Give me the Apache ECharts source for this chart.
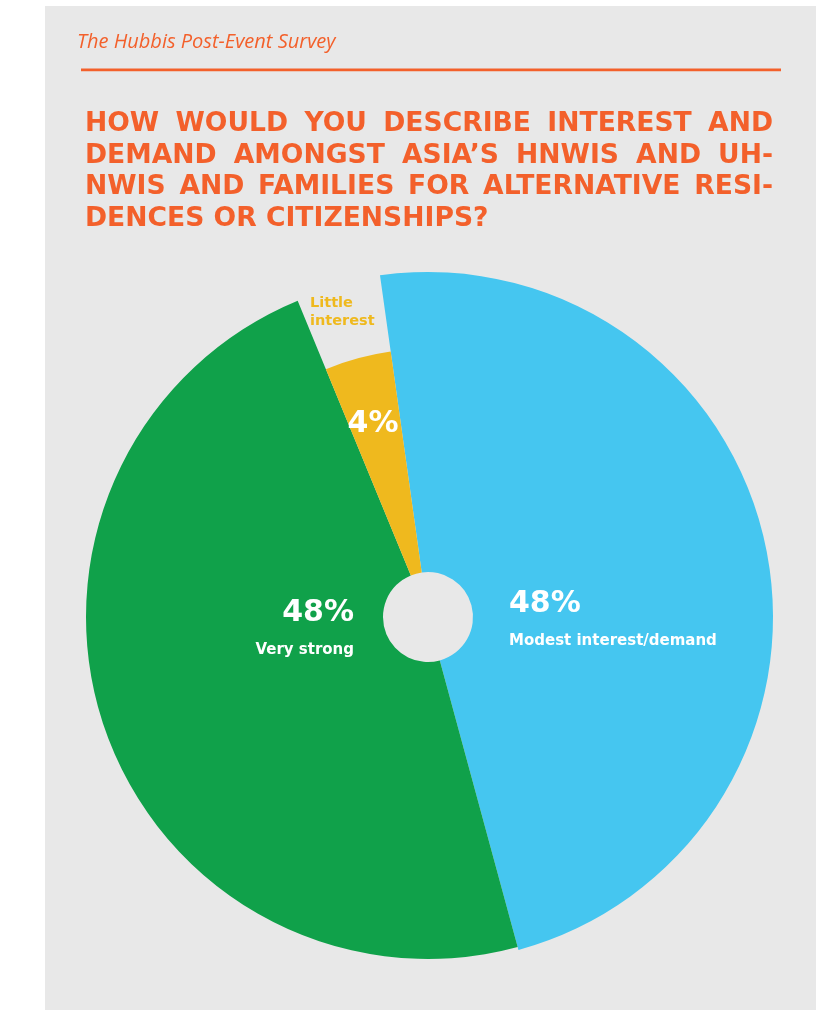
<!DOCTYPE html>
<html>
<head>
<meta charset="utf-8">
<script src="https://cdn.jsdelivr.net/npm/echarts@6/dist/echarts.min.js"></script>
<style>
  html, body { margin: 0; padding: 0; background: #fff; }
  #main { width: 816px; height: 1010px; }
</style>
</head>
<body>
<div id="main"></div>
<script>
// survey answers, clockwise from the top
var categories = ['Modest interest/demand', 'Very strong', 'Little interest'];
var values = [48, 48, 4];
var sliceColors = ['#45c6f0', '#10a14a', '#efb91e'];
var outerRadius = [345, 342, 268];

var headerText = 'The Hubbis Post-Event Survey';
var titleLines = [
  'HOW WOULD YOU DESCRIBE INTEREST AND',
  'DEMAND AMONGST ASIA\u2019S HNWIS AND UH-',
  'NWIS AND FAMILIES FOR ALTERNATIVE RESI-',
  'DENCES OR CITIZENSHIPS?'
];

var ORANGE = '#f3602b';
var BG = '#e8e8e8';
var TITLE_FONT = '"DejaVu Sans"';
var TITLE_LEFT = 85, TITLE_RIGHT = 773;
var LAST_LINE_WIDTH = 403;
var LABEL_FONT = '"DejaVu Sans", sans-serif';

// label spots for each slice (left/top of the text block)
var labelSpots = [
  { x: 509, y: 579, align: 'left', va: 'top' },
  { x: 354, y: 588, align: 'right', va: 'top' },
  { x: 373, y: 424, align: 'center', va: 'middle' }
];

var measureCtx = document.createElement('canvas').getContext('2d');
measureCtx.font = 'bold 100px ' + TITLE_FONT;
var TITLE_SIZE = Math.round(100 * LAST_LINE_WIDTH /
  measureCtx.measureText(titleLines[titleLines.length - 1]).width * 10) / 10;

// title is justified like the print layout: spread words across the line
function titleWords(line, y, justify) {
  measureCtx.font = 'bold ' + TITLE_SIZE + 'px ' + TITLE_FONT;
  var words = line.split(' ');
  var widths = words.map(function (w) { return measureCtx.measureText(w).width; });
  var total = widths.reduce(function (a, b) { return a + b; }, 0);
  var gap = justify ? (TITLE_RIGHT - TITLE_LEFT - total) / (words.length - 1)
                    : measureCtx.measureText(' ').width;
  var x = TITLE_LEFT;
  return words.map(function (w, i) {
    var el = {
      type: 'text', x: x, y: y,
      style: {
        text: w, fill: ORANGE, fontSize: TITLE_SIZE, fontWeight: 'bold',
        fontFamily: TITLE_FONT, verticalAlign: 'middle'
      }
    };
    x += widths[i] + gap;
    return el;
  });
}

var graphics = [
  { type: 'rect', z: -100, shape: { x: 45, y: 6, width: 771, height: 1004 }, style: { fill: BG } },
  { type: 'rect', shape: { x: 81, y: 68.5, width: 700, height: 2.7 }, style: { fill: ORANGE } },
  {
    type: 'text', x: 77, y: 42,
    style: {
      text: headerText, fill: ORANGE, fontSize: 20, fontStyle: 'italic',
      fontFamily: '"Open Sans"', verticalAlign: 'middle'
    }
  },
  {
    type: 'text', x: 310, y: 294,
    style: {
      text: 'Little\ninterest', fill: sliceColors[2], fontSize: 14.5, fontWeight: 'bold',
      fontFamily: LABEL_FONT, lineHeight: 18, verticalAlign: 'top'
    }
  }
];
var titleY = [124, 156, 187, 219];
titleLines.forEach(function (line, i) {
  graphics = graphics.concat(titleWords(line, titleY[i], i < titleLines.length - 1));
});

function labelText(i) {
  if (i === 2) return '{p|' + values[i] + '%}';
  return '{p|' + values[i] + '%}\n{n|' + categories[i] + '}';
}

// one pie per slice so every slice can have its own outer radius
function sliceSeries(k) {
  return {
    type: 'pie',
    center: [428, 617],
    radius: [45, outerRadius[k]],
    startAngle: 98,
    clockwise: true,
    silent: true,
    avoidLabelOverlap: false,
    labelLine: { show: false },
    emphasis: { disabled: true },
    data: values.map(function (v, i) {
      return {
        value: v,
        name: categories[i],
        itemStyle: { color: i === k ? sliceColors[i] : 'rgba(0,0,0,0)', borderWidth: 0 },
        label: {
          show: i === k,
          position: 'inside',
          formatter: function () { return labelText(i); },
          rich: {
            p: { fontSize: 30, fontWeight: 'bold', fontFamily: LABEL_FONT, color: '#fff', lineHeight: 50 },
            n: { fontSize: 15, fontWeight: 'bold', fontFamily: LABEL_FONT, color: '#fff', lineHeight: 24 }
          }
        }
      };
    }),
    labelLayout: function (params) {
      var s = labelSpots[params.dataIndex];
      return { x: s.x, y: s.y, align: s.align, verticalAlign: s.va };
    }
  };
}

var chart = echarts.init(document.getElementById('main'), null, { renderer: 'canvas' });
chart.setOption({
  backgroundColor: '#fff',
  animation: false,
  graphic: graphics,
  series: [sliceSeries(0), sliceSeries(1), sliceSeries(2)]
});
</script>
</body>
</html>
